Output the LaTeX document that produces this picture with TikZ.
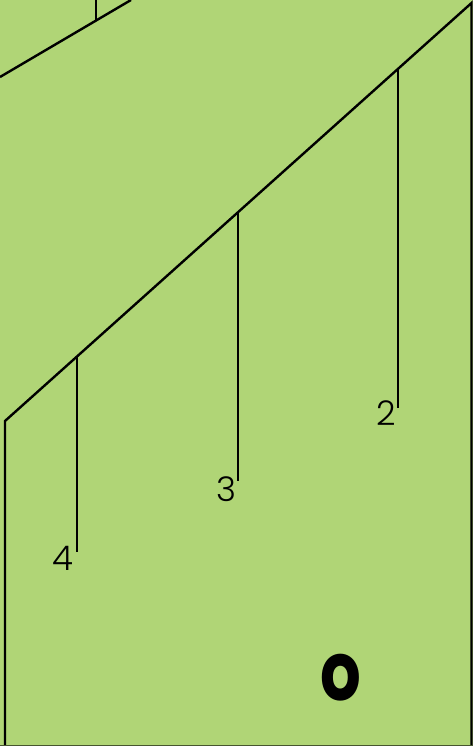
\documentclass[tikz,border=0pt]{standalone}
\usepackage{fontspec}
\setmainfont{Poppins}
\newfontfamily\lightfont{Poppins Light}
\definecolor{bggreen}{RGB}{176,213,118}
\tikzset{
  edge/.style={draw=black, line width=2.4pt, line cap=butt, line join=miter},
  tick/.style={draw=black, line width=2.2pt},
  numlbl/.style={font=\lightfont\fontsize{34}{34}\selectfont, inner sep=0pt, anchor=center},
  biglbl/.style={font=\fontsize{78}{78}\selectfont\bfseries, inner sep=0pt, anchor=center}
}
\begin{document}
\begin{tikzpicture}[x=1pt, y=-1pt]
\fill[bggreen] (0,0) rectangle (473,746);
\useasboundingbox (0,0) rectangle (473,746);
% coordinates
\coordinate (tlA) at (0,77);
\coordinate (tlB) at (131,0);
\coordinate (tlT) at (96,20);
\coordinate (tlTtop) at (96,0);
\coordinate (dgA) at (5,421);
\coordinate (dgB) at (471.5,3);
\coordinate (rb) at (471.5,746);
\coordinate (lb) at (5,746);
\coordinate (t2a) at (398,68.5);
\coordinate (t2b) at (398,408);
\coordinate (t3a) at (238,212);
\coordinate (t3b) at (238,481);
\coordinate (t4a) at (77,356);
\coordinate (t4b) at (77,552);
\coordinate (bl) at (0,745.5);
\coordinate (br) at (473,745.5);
% lines
\draw[edge] (tlA) -- (tlB);
\draw[tick] (tlTtop) -- (tlT);
\draw[edge] (lb) -- (dgA) -- (dgB) -- (rb);
\draw[black!60!bggreen, line width=1pt] (bl) -- (br);
\draw[tick] (t2a) -- (t2b);
\draw[tick] (t3a) -- (t3b);
\draw[tick] (t4a) -- (t4b);
% labels
\node[numlbl] (l2) at (386,413) {2};
\node[numlbl] (l3) at (226,489) {3};
\node[numlbl] (l4) at (63,558) {4};
\node[biglbl] (lo) at (341,678) {\scalebox{0.82}[1.05]{o}};
\end{tikzpicture}
\end{document}
